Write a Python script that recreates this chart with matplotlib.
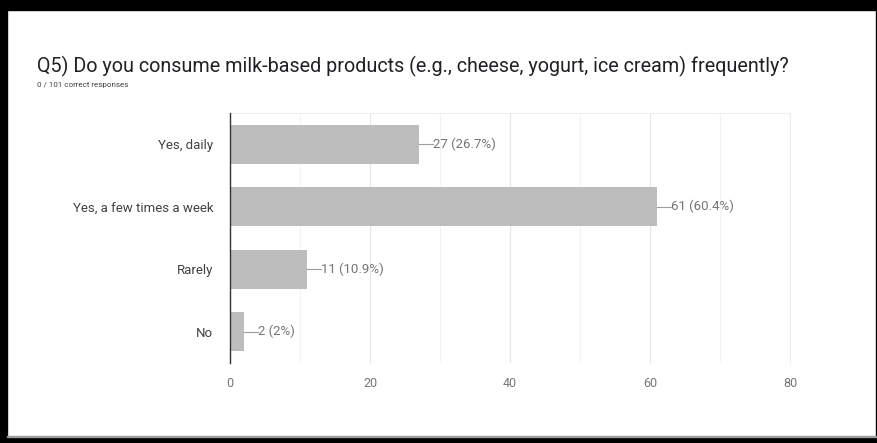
import matplotlib.pyplot as plt
from matplotlib.patches import Rectangle

# data
categories = ["Yes, daily", "Yes, a few times a week", "Rarely", "No"]
counts = [27, 61, 11, 2]
percents = ["26.7%", "60.4%", "10.9%", "2%"]
x_ticks = [0, 20, 40, 60, 80]

title = "Q5) Do you consume milk-based products (e.g., cheese, yogurt, ice cream) frequently?"
subtitle = "0 / 101 correct responses"

plt.rcParams['font.family'] = ['Roboto', 'DejaVu Sans']

W, H = 878, 443
fig = plt.figure(figsize=(W / 100, H / 100), dpi=100)
fig.patch.set_facecolor('white')

# black frame round the screenshot
def px_rect(x0, y0, w, h, color='black'):
    fig.patches.append(Rectangle((x0 / W, 1 - (y0 + h) / H), w / W, h / H,
                                 transform=fig.transFigure, color=color, zorder=10))

px_rect(0, 0, W, 10)
px_rect(0, 0, 7, H)
px_rect(0, 437, W, 6)
px_rect(W - 2, 0, 2, H)
px_rect(7, 436, W - 9, 1, color='#9e9e9e')

fig.text(37 / W, 1 - 66 / H, title, fontsize=14.2, color='#202124', va='center', ha='left')
fig.text(37 / W, 1 - 85 / H, subtitle, fontsize=5.8, color='#3c4043', va='center', ha='left')

ax = fig.add_axes([230 / W, 80 / H, 560 / W, 250 / H])
y = list(range(len(categories)))
ax.barh(y, counts, height=0.62, color='#bdbdbd', zorder=3)
ax.set_ylim(len(categories) - 0.5, -0.5)
ax.set_xlim(0, 80)

ax.set_xticks(x_ticks)
ax.set_xticklabels([str(t) for t in x_ticks], color='#757575', fontsize=9)
ax.set_xticks(range(10, 80, 20), minor=True)
ax.set_yticks(y)
ax.set_yticklabels(categories, color='#424242', fontsize=9.5)
ax.tick_params(axis='both', which='both', length=0)
ax.tick_params(axis='x', pad=10)
ax.tick_params(axis='y', pad=12)

ax.grid(axis='x', which='major', color='#e6e6e6', linewidth=0.8, zorder=0)
ax.grid(axis='x', which='minor', color='#f3f3f3', linewidth=0.8, zorder=0)

for side in ['top', 'right']:
    ax.spines[side].set_color('#eeeeee')
ax.spines['bottom'].set_visible(False)
ax.spines['left'].set_color('#333333')
ax.spines['left'].set_linewidth(1.0)
ax.spines['left'].set_zorder(4)

for i, (c, p) in enumerate(zip(counts, percents)):
    ax.plot([c, c + 2], [i, i], color='#9e9e9e', linewidth=0.8, zorder=4)
    ax.text(c + 2, i, f"{c} ({p})", color='#757575', fontsize=9.5, va='center', ha='left')

fig.savefig('out.png', dpi=100)
